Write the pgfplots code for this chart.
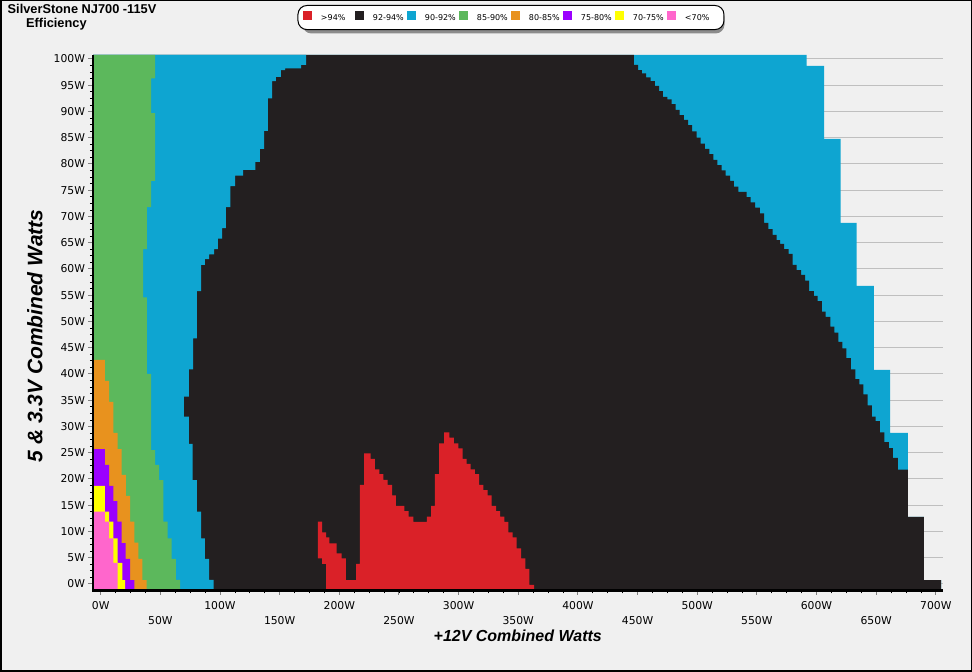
\documentclass[border=0pt]{standalone}
\usepackage{pgfplots}
\pgfplotsset{compat=1.18}
\usepackage{fontspec}
\setmainfont{Liberation Sans}
\newfontfamily\djv{DejaVu Sans}
\usetikzlibrary{shadows}
\definecolor{bgc}{HTML}{F0F0F0}
\definecolor{cRed}{HTML}{DA2128}
\definecolor{cBlack}{HTML}{231F20}
\definecolor{cBlue}{HTML}{0EA5D1}
\definecolor{cGreen}{HTML}{5CB85C}
\definecolor{cOrange}{HTML}{E8921E}
\definecolor{cPurple}{HTML}{9B00FF}
\definecolor{cYellow}{HTML}{FFFF00}
\definecolor{cPink}{HTML}{FF66CC}
\pgfplotsset{sqleg/.style={no markers, legend image code/.code={\path[sharp corners, ##1, draw=none] (0pt,-1.6pt) rectangle (9pt,7.4pt);}}}
\begin{document}
\begin{tikzpicture}
\useasboundingbox (0pt,0pt) rectangle (972pt,672pt);
\fill[bgc] (0pt,0pt) rectangle (972pt,672pt);
\draw[line width=1.5pt] (0.75pt,0.75pt) rectangle (971.25pt,671.25pt);
% legend frame with shadow, drawn behind the axis legend
\fill[black!45, rounded corners=9pt] (302.5pt,638.5pt) rectangle (724.5pt,664.5pt);
\node[anchor=base west, inner sep=0pt, font=\bfseries\fontsize{12.8}{14}\selectfont] at (7.5pt,658pt) {SilverStone NJ700 -115V};
\node[anchor=base west, inner sep=0pt, font=\bfseries\fontsize{12.8}{14}\selectfont] at (26pt,644.7pt) {Efficiency};
\begin{axis}[
  at={(93pt,81.5pt)}, anchor=south west,
  scale only axis, width=849.5pt, height=535.5pt,
  xmin=-6.45, xmax=705.6, ymin=-1.24, ymax=100.76,
  clip=false, no markers,
  axis x line*=bottom, axis y line*=left,
  axis line style={line width=2.5pt, -},
  tick align=outside,
  major tick length=4.5pt, minor tick length=3pt,
  major tick style={gray, line width=1pt},
  minor tick style={black, line width=0.8pt},
  xtick={0,100,...,700},
  xticklabels={0W,100W,200W,300W,400W,500W,600W,700W},
  xticklabel style={yshift=-3pt},
  extra x ticks={50,150,...,650},
  extra x tick labels={50W,150W,250W,350W,450W,550W,650W},
  extra x tick style={xticklabel style={yshift=-14.5pt}},
  minor x tick num=7,
  ytick={0,5,...,100},
  yticklabels={0W,5W,10W,15W,20W,25W,30W,35W,40W,45W,50W,55W,60W,65W,70W,75W,80W,85W,90W,95W,100W},
  minor y tick num=3,
  ymajorgrids,
  grid style={line width=1pt, color=black!25},
  ticklabel style={font=\djv\fontsize{10.8}{12}\selectfont},
  xlabel={+12V Combined Watts},
  xlabel style={font=\bfseries\itshape\fontsize{16}{18}\selectfont, at={(axis description cs:0.5,-0.085)}, anchor=center},
  ylabel={5 \& 3.3V Combined Watts},
  ylabel style={font=\bfseries\itshape\fontsize{21}{24}\selectfont, at={(axis description cs:-0.0683,0.4753)}, anchor=center},
  legend columns=8,
  legend style={at={(0.492,1.0934)}, anchor=north, draw=black, line width=1pt,
    rounded corners=9pt, fill=white,
    font=\djv\fontsize{8}{9}\selectfont, inner xsep=5pt, inner ysep=5.5pt,
    nodes={inner sep=2pt},
    /tikz/every odd column/.append style={column sep=7pt},
    /tikz/every even column/.append style={column sep=0pt}},
]
% 90-92% outer envelope
\addplot[const plot mark right, fill=cBlue, draw=none, forget plot] coordinates {
(-6.45,-1.24) (704.4,-1.24) (689.9,0.76) (676.6,12.8) (661.6,28.8) (648.0,40.8)
(633.7,56.8) (620.3,68.8) (606.3,84.8) (591.8,98.7) (-6.45,100.76)};
% 92-94%
\addplot[const plot mark right, fill=cBlack, draw=none, forget plot] coordinates {
(-6.45,-1.24) (704.4,-1.24) (689.9,0.76) (676.6,12.8)
(668.1,21.8) (663.9,24.0) (660.6,25.9) (656.9,27.0) (653.0,28.9) (649.6,31.0)
(646.3,31.9) (642.9,34.0) (639.2,36.1) (635.9,38.0) (632.5,39.0) (628.7,40.9)
(625.0,43.0) (621.6,44.9) (618.3,46.1) (614.9,47.9) (611.6,49.0) (607.7,50.9)
(604.4,51.9) (601.0,53.9) (597.7,54.9) (593.7,55.8) (590.4,57.8) (587.0,58.9)
(583.4,59.8) (580.0,60.8) (576.7,62.9) (572.8,63.8) (569.4,64.8) (566.6,65.5)
(563.3,66.5) (559.6,67.6) (556.0,68.8) (552.6,70.6) (548.5,71.7) (544.8,72.7)
(541.5,73.7) (534.5,74.7) (530.8,75.7) (527.5,76.8) (523.9,77.8) (520.5,78.8)
(516.9,79.8) (513.5,80.8) (510.1,81.9) (506.5,82.9) (502.9,83.9) (499.6,85.0)
(495.8,86.2) (492.3,87.4) (488.9,88.4) (485.3,89.3) (482.0,90.3) (478.6,91.4)
(474.9,92.3) (471.3,92.8) (468.0,93.9) (464.6,94.9) (461.0,95.8) (457.1,96.5)
(453.7,97.27) (450.4,97.9) (447.0,98.86) (-6.45,100.76)};
% 90-92% left band
\addplot[const plot mark right, fill=cBlue, draw=none, forget plot] coordinates {
(-6.45,-1.24) (94.7,-1.24) (90.8,0.8) (87.4,4.8) (84.1,8.7) (80.7,13.8) (77.1,19.8)
(74.0,26.7) (69.8,31.9) (74.0,35.7) (77.4,40.9) (80.7,46.8) (84.1,55.8) (87.4,60.8)
(90.8,61.9) (95.0,62.8) (98.3,63.8) (101.7,65.8) (105.0,67.8) (108.6,71.8)
(112.6,75.8) (119.3,77.8) (129.6,78.9) (133.5,80.4) (136.9,82.9) (140.2,86.3)
(143.6,92.5) (146.9,95.8) (151.1,96.6) (154.5,97.9) (167.9,98.2) (172.1,98.9)
(-6.45,100.76)};
% 85-90%
\addplot[const plot mark right, fill=cGreen, draw=none, forget plot] coordinates {
(-6.45,-1.24) (66.5,-1.24) (63.1,0.8) (59.5,4.8) (56.2,8.7) (52.5,11.9) (48.9,19.8)
(45.6,22.7) (42.2,25.5) (38.8,40.0) (35.5,54.6) (38.8,63.8) (42.2,71.8) (45.6,76.8)
(42.2,89.7) (45.6,96.3) (-6.45,100.76)};
% 80-85%
\addplot[const plot mark right, fill=cOrange, draw=none, forget plot] coordinates {
(-6.45,-1.24) (38.5,-1.24) (34.9,0.76) (31.5,4.8) (28.2,7.9) (24.6,11.9) (21.2,16.8)
(17.6,20.8) (14.2,25.7) (10.6,28.8) (7.0,34.7) (3.6,38.7) (-6.45,42.7)};
% 75-80%
\addplot[const plot mark right, fill=cPurple, draw=none, forget plot] coordinates {
(-6.45,-1.24) (28.2,-1.24) (24.6,0.76) (21.0,4.8) (17.6,7.8) (13.9,11.9) (10.6,15.8)
(7.0,18.7) (3.6,22.7) (-6.45,25.7)};
% 70-75%
\addplot[const plot mark right, fill=cYellow, draw=none, forget plot] coordinates {
(-6.45,-1.24) (20.4,-1.24) (18.1,0.76) (14.2,4.0) (10.6,8.7) (7.0,11.9) (3.6,13.8)
(-6.45,18.7)};
% <70%
\addplot[const plot mark right, fill=cPink, draw=none, forget plot] coordinates {
(-6.45,-1.24) (14.2,-1.24) (10.6,4.0) (7.0,8.7) (3.6,11.9) (-6.45,13.8)};
% >94%
\addplot[const plot mark right, fill=cRed, draw=none, forget plot] coordinates {
(188.9,-1.24) (185.5,3.81) (182.1,4.89) (185.5,11.87) (188.9,9.84) (191.6,8.89)
(197.8,7.75) (202.0,5.84) (205.6,4.89) (214.0,0.76) (217.3,3.81) (220.7,18.86)
(226.3,24.89) (229.9,23.81) (233.5,21.84) (236.9,20.95) (240.6,19.81) (244.2,18.86)
(247.5,16.89) (254.5,14.86) (258.2,13.9) (262.0,12.83) (273.5,11.81) (276.9,12.83)
(280.2,14.86) (283.6,20.95) (287.8,26.79) (292.2,28.89) (296.1,27.87) (299.8,26.79)
(303.4,25.84) (306.8,23.81) (310.1,22.86) (313.7,21.84) (317.1,20.95) (320.7,18.86)
(324.4,17.9) (327.7,16.89) (331.4,14.86) (334.7,13.9) (338.3,12.83) (341.7,11.81)
(345.3,9.84) (348.7,8.89) (352.3,6.79) (355.9,4.89) (359.3,2.86) (363.2,-0.19)
(363.2,-1.24)};
% axis lines over the fills
\draw[line width=2.5pt] (rel axis cs:0,1) -- (rel axis cs:0,0) -- (rel axis cs:1,0);
\addlegendimage{sqleg, fill=cRed}
\addlegendentry{\makebox[32pt][l]{>94\%}}
\addlegendimage{sqleg, fill=cBlack}
\addlegendentry{\makebox[32pt][l]{92-94\%}}
\addlegendimage{sqleg, fill=cBlue}
\addlegendentry{\makebox[32pt][l]{90-92\%}}
\addlegendimage{sqleg, fill=cGreen}
\addlegendentry{\makebox[32pt][l]{85-90\%}}
\addlegendimage{sqleg, fill=cOrange}
\addlegendentry{\makebox[32pt][l]{80-85\%}}
\addlegendimage{sqleg, fill=cPurple}
\addlegendentry{\makebox[32pt][l]{75-80\%}}
\addlegendimage{sqleg, fill=cYellow}
\addlegendentry{\makebox[32pt][l]{70-75\%}}
\addlegendimage{sqleg, fill=cPink}
\addlegendentry{\makebox[32pt][l]{<70\%}}
\end{axis}
\end{tikzpicture}
\end{document}
